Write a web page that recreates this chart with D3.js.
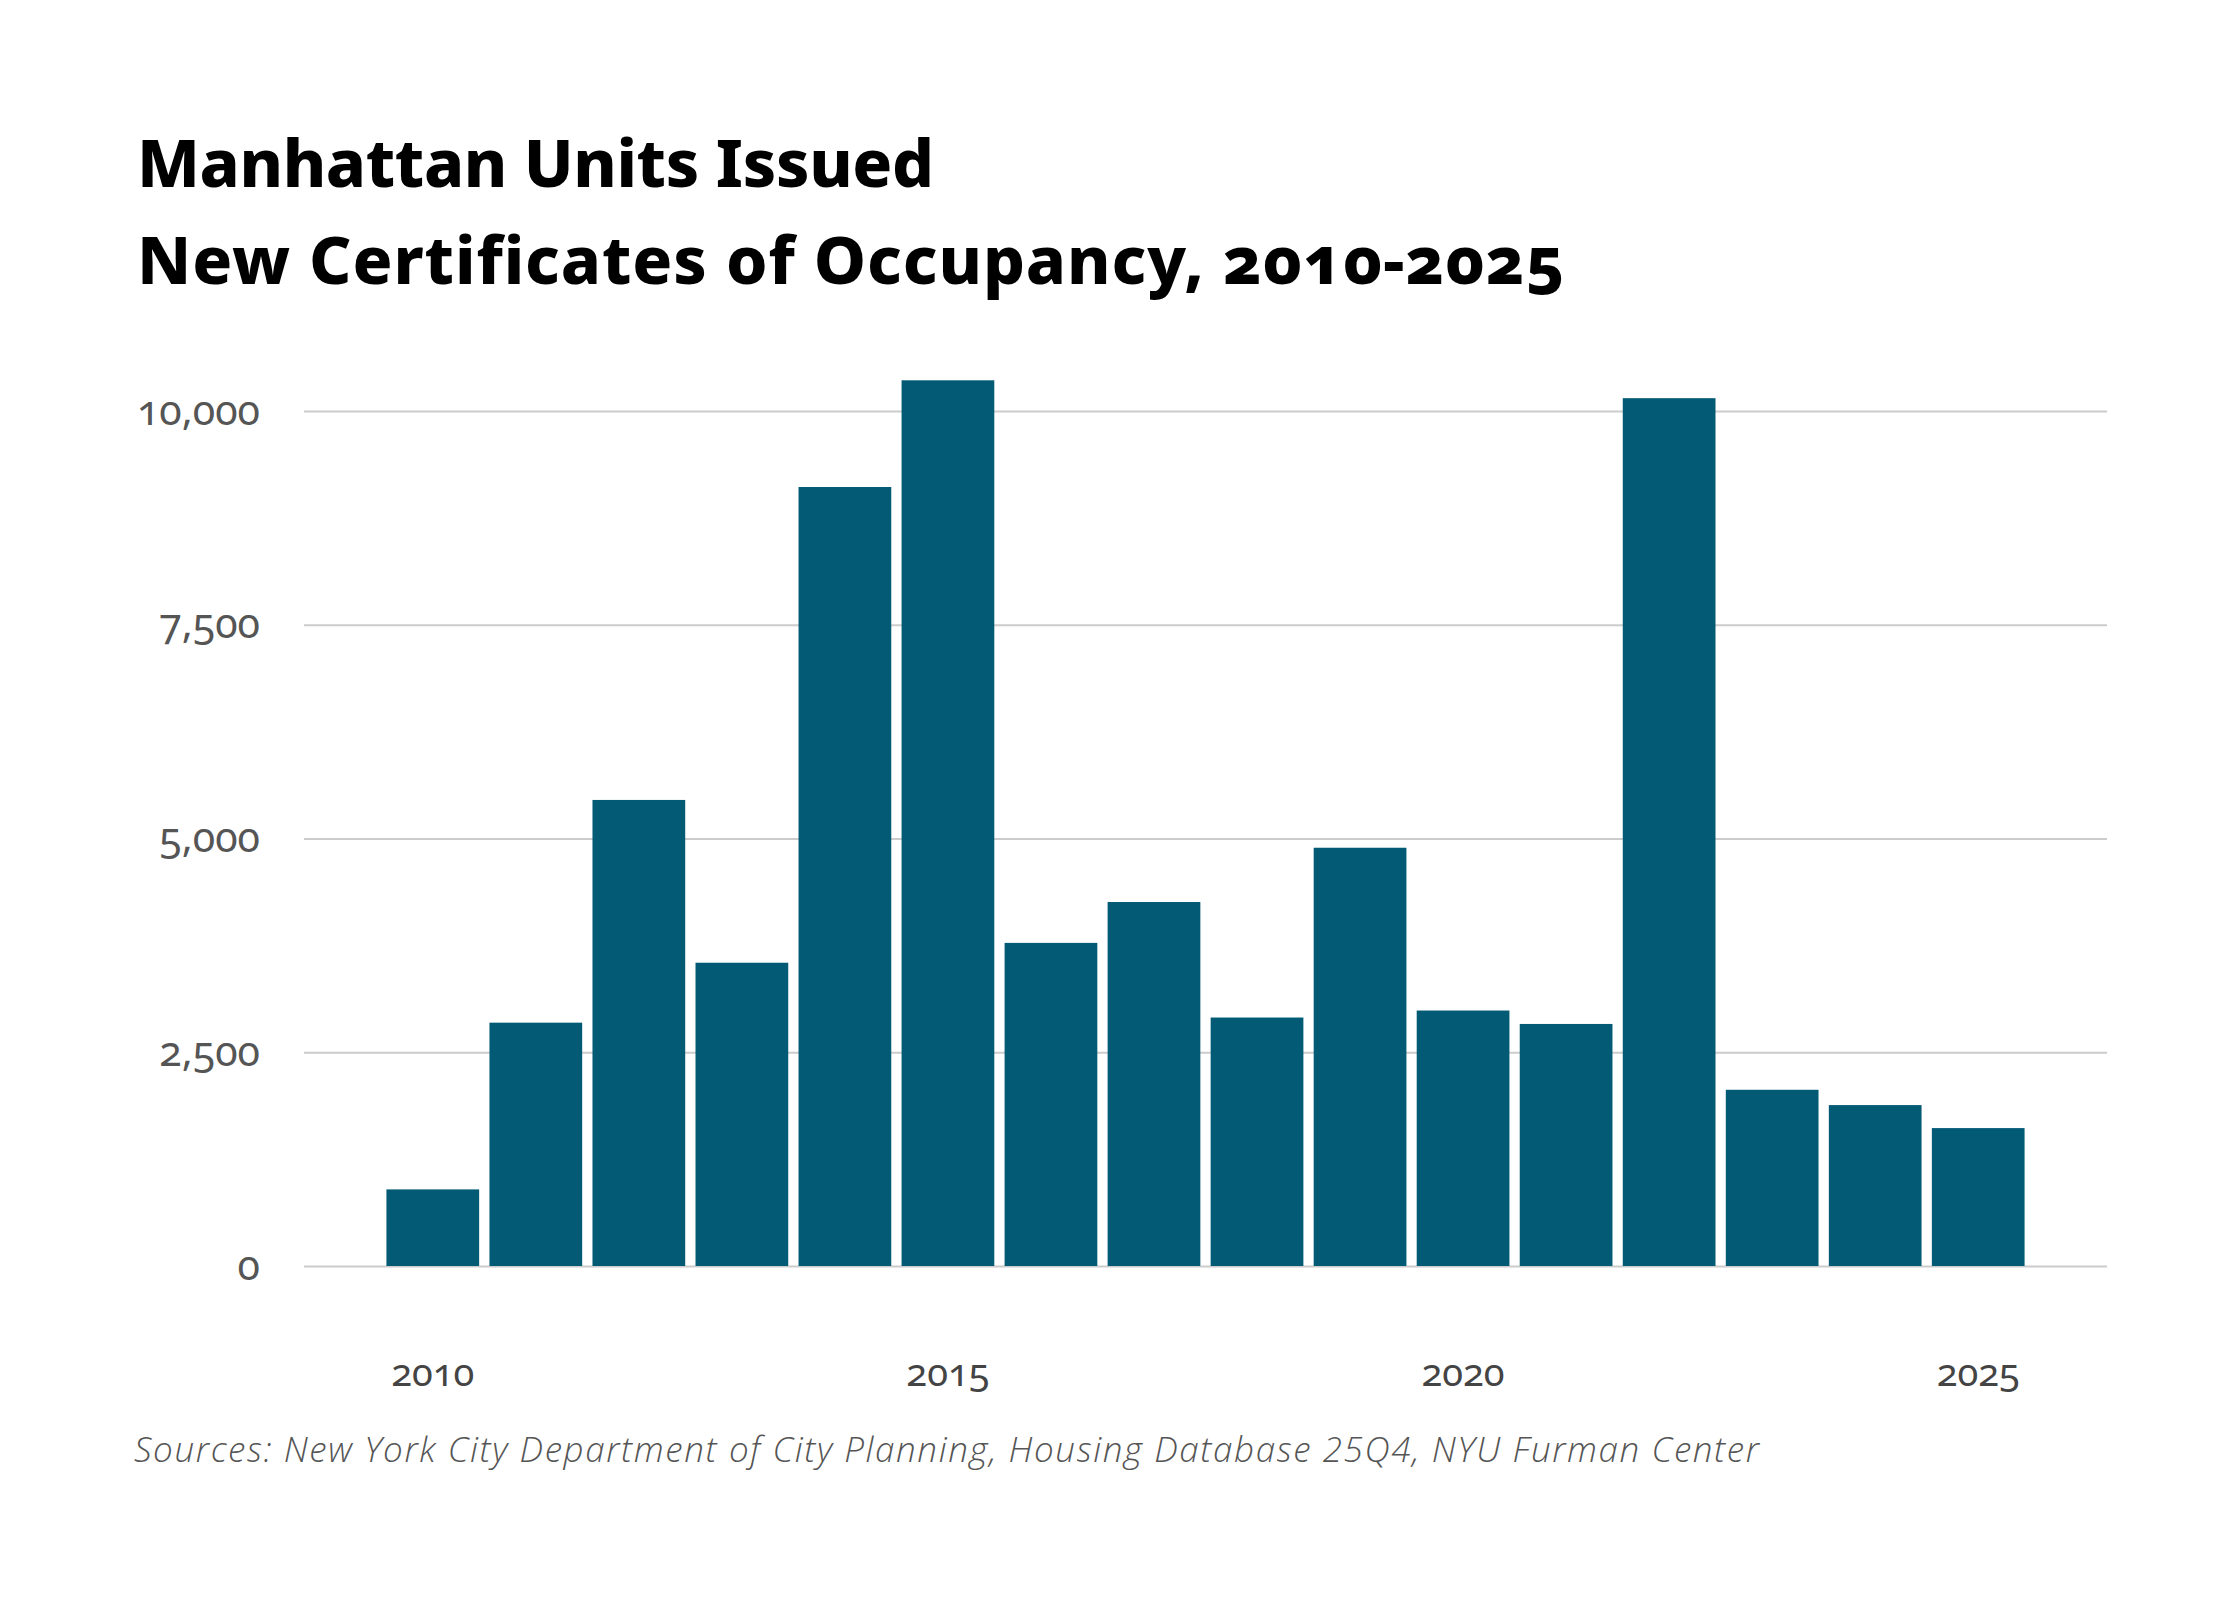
<!DOCTYPE html>
<html>
<head>
<meta charset="utf-8">
<script src="https://cdn.jsdelivr.net/npm/d3@7"></script>
<style>
  html, body { margin: 0; padding: 0; background: #fff; }
  svg { display: block; }
</style>
</head>
<body>
<svg id="chart" width="2240" height="1600"></svg>
<script>
const years = [2010, 2011, 2012, 2013, 2014, 2015, 2016, 2017, 2018, 2019, 2020, 2021, 2022, 2023, 2024, 2025];
const units = [896, 2846, 5451, 3547, 9111, 10359, 3779, 4257, 2906, 4892, 2988, 2831, 10150, 2061, 1882, 1613];
const yTicks = [0, 2500, 5000, 7500, 10000];
const xTickYears = [2010, 2015, 2020, 2025];
const titleLines = ["Manhattan Units Issued", "New Certificates of Occupancy, 2010-2025"];
const sourceText = "Sources: New York City Department of City Planning, Housing Database 25Q4, NYU Furman Center";

const W = 2240, H = 1600;
const plot = { left: 304, right: 2107, top: 411, bottom: 1266 };
const barColor = "#025a74";

const svg = d3.select("#chart");
svg.append("rect").attr("width", W).attr("height", H).attr("fill", "#fff");

// fit a text element to a target width by adjusting letter-spacing
function fitWidth(sel, target) {
  sel.each(function () {
    const n = this.getNumberOfChars();
    const w = this.getComputedTextLength();
    if (n > 1) d3.select(this).attr("letter-spacing", ((target - w) / (n - 1)).toFixed(2));
  });
}

const x = d3.scaleBand()
  .domain(years)
  .range([plot.left, plot.right])
  .paddingInner(0.1)
  .paddingOuter(0.8);

const y = d3.scaleLinear()
  .domain([0, 10000])
  .range([plot.bottom, plot.top]);

// Title
const titleWidths = [797, 1428];
titleLines.forEach((line, i) => {
  const t = svg.append("text")
    .attr("x", 137)
    .attr("y", 187 + i * 96.5)
    .attr("font-family", "'Noto Sans', Inter, sans-serif")
    .attr("font-weight", 800)
    .attr("font-size", 66)
    .attr("fill", "#000")
    .style("font-variant-numeric", "oldstyle-nums")
    .text(line);
  fitWidth(t, titleWidths[i]);
});

// Gridlines + y labels
const yAxis = d3.axisLeft(y)
  .tickValues(yTicks)
  .tickSize(-(plot.right - plot.left))
  .tickPadding(44)
  .tickFormat(d3.format(","));
const gy = svg.append("g")
  .attr("transform", `translate(${plot.left},0)`)
  .call(yAxis);
gy.select(".domain").remove();
gy.selectAll(".tick line").attr("stroke", "#cccccc").attr("stroke-width", 2);
gy.selectAll(".tick text")
  .attr("font-family", "'Noto Sans', sans-serif")
  .attr("font-size", 41)
  .attr("fill", "#555")
  .style("font-variant-numeric", "oldstyle-nums")
  .attr("dy", "0.32em");

// Bars
svg.append("g").selectAll("rect")
  .data(years.map((yr, i) => ({ yr, v: units[i] })))
  .join("rect")
  .attr("x", d => x(d.yr))
  .attr("width", x.bandwidth())
  .attr("y", d => y(d.v))
  .attr("height", d => y(0) - y(d.v))
  .attr("fill", barColor);

// X axis labels
const xAxis = d3.axisBottom(x)
  .tickValues(xTickYears)
  .tickSize(0)
  .tickPadding(0);
const gx = svg.append("g")
  .attr("transform", `translate(0,1386)`)
  .call(xAxis);
gx.select(".domain").remove();
gx.selectAll(".tick text")
  .attr("font-family", "'Noto Sans', sans-serif")
  .attr("font-size", 38)
  .attr("fill", "#444")
  .style("font-variant-numeric", "oldstyle-nums")
  .attr("dy", 0);

// Source
const src = svg.append("text")
  .attr("x", 134)
  .attr("y", 1462)
  .attr("font-family", "'Open Sans', Lato, sans-serif")
  .attr("font-weight", 300)
  .attr("font-style", "italic")
  .attr("font-size", 35)
  .attr("fill", "#555")
  .text(sourceText);
fitWidth(src, 1625);
</script>
</body>
</html>
